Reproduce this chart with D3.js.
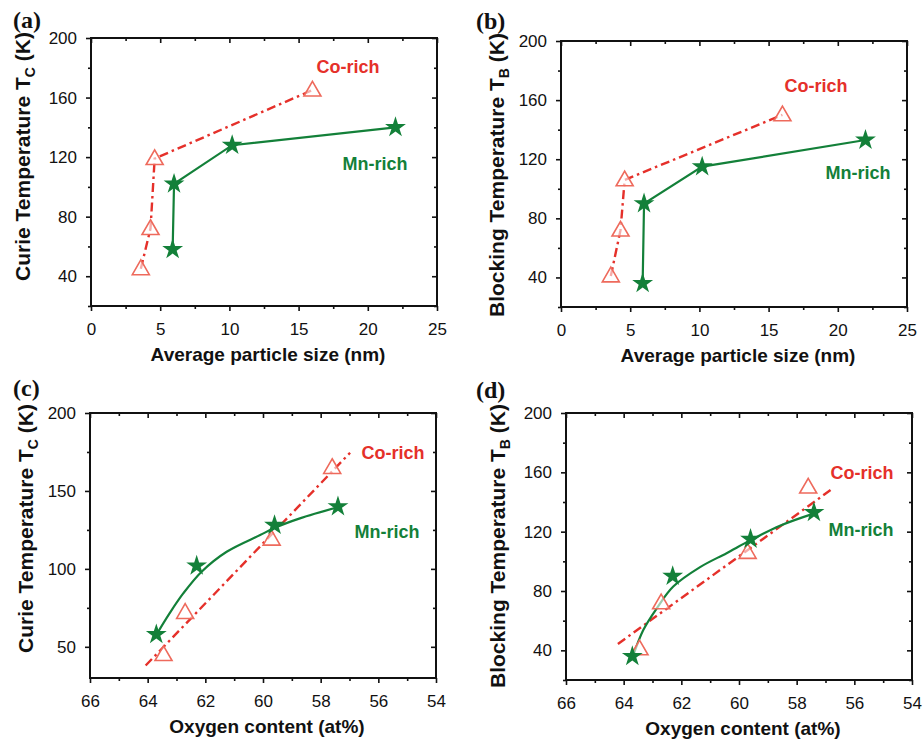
<!DOCTYPE html>
<html>
<head>
<meta charset="utf-8">
<script src="https://cdn.jsdelivr.net/npm/d3@7"></script>
<style>
  body { margin: 0; background: #fff; }
  svg { display: block; }
  .tick text { font-family: "Liberation Sans", Arial, sans-serif; font-size: 17px; fill: #111; }
</style>
</head>
<body>
<div id="chart"></div>
<script>
// particle size (nm) for the two series, panels (a) and (b)
var sizeCo = [3.6, 4.3, 4.6, 16];
var sizeMn = [5.9, 6.0, 10.2, 22];
// oxygen content (at%), panels (c) and (d)
var oxyCo = [63.45, 62.7, 59.7, 57.6];
var oxyMn = [63.7, 62.3, 59.6, 57.4];
// Curie temperature Tc (K)
var tcCo = [45, 72, 119, 165];
var tcMn = [58, 102, 128, 140];
// Blocking temperature Tb (K)
var tbCo = [41, 72, 106, 150];
var tbMn = [36, 90, 115, 133];

// linear fit of Co-rich (end points)
var fitCoTcX = [64.07, 56.98], fitCoTcY = [38, 174.5];
var fitCoTbX = [64.2, 56.75], fitCoTbY = [44.3, 149.1];
// smooth guide curve for Mn-rich
var curveMnTcX = [63.7, 63.23, 62.76, 62.13, 61.26, 60.1, 59.57, 58.72, 57.44];
var curveMnTcY = [57.7, 71.8, 84.4, 98.2, 111, 121.7, 126.5, 132.4, 139.4];
var curveMnTbX = [63.69, 63.32, 62.85, 62.28, 61.35, 60.43, 59.62, 58.58, 57.36];
var curveMnTbY = [35.3, 53.7, 68.4, 83, 96.1, 105.5, 114, 124, 132.5];

var sizeTicks = [0, 5, 10, 15, 20, 25];
var sizeMinor = [2.5, 7.5, 12.5, 17.5, 22.5];
var oxyTicks = [66, 64, 62, 60, 58, 56, 54];
var oxyMinor = [65, 63, 61, 59, 57, 55];
var t40Ticks = [40, 80, 120, 160, 200];
var t40Minor = [20, 60, 100, 140, 180];
var t50Ticks = [50, 100, 150, 200];
var t50Minor = [75, 125, 175];

var RED = "#e5302a", SALMON = "#ee6a5c", GREEN = "#138039";

var W = 923, H = 739;
var svg = d3.select("#chart").append("svg").attr("width", W).attr("height", H);

function zip(xs, ys) { return xs.map(function(x, i) { return [x, ys[i]]; }); }

var panels = [
  { tag: "(a)", tagX: 13, tagY: 28, x0: 91, x1: 437, y0: 38, y1: 306,
    xDom: [0, 25], yDom: [20, 200], xt: sizeTicks, xm: sizeMinor, yt: t40Ticks, ym: t40Minor,
    xTitle: "Average particle size (nm)", yMain: "Curie Temperature T", ySub: "C", yTitleX: 30, yTitleTop: 32,
    co: zip(sizeCo, tcCo), mn: zip(sizeMn, tcMn), coLine: zip(sizeCo, tcCo), mnLine: zip(sizeMn, tcMn), smooth: false,
    coLab: [18.57, 176.5], mnLab: [20.52, 111.3] },
  { tag: "(b)", tagX: 476, tagY: 29, x0: 561, x1: 907, y0: 41, y1: 307,
    xDom: [0, 25], yDom: [20, 200], xt: sizeTicks, xm: sizeMinor, yt: t40Ticks, ym: t40Minor,
    xTitle: "Average particle size (nm)", yMain: "Blocking Temperature T", ySub: "B", yTitleX: 504, yTitleTop: 33,
    co: zip(sizeCo, tbCo), mn: zip(sizeMn, tbMn), coLine: zip(sizeCo, tbCo), mnLine: zip(sizeMn, tbMn), smooth: false,
    coLab: [18.42, 165.5], mnLab: [21.46, 106.6] },
  { tag: "(c)", tagX: 13, tagY: 396, x0: 90, x1: 436, y0: 413, y1: 678,
    xDom: [66, 54], yDom: [30, 200], xt: oxyTicks, xm: oxyMinor, yt: t50Ticks, ym: t50Minor,
    xTitle: "Oxygen content (at%)", yMain: "Curie Temperature T", ySub: "C", yTitleX: 33, yTitleTop: 404,
    co: zip(oxyCo, tcCo), mn: zip(oxyMn, tcMn), coLine: zip(fitCoTcX, fitCoTcY), mnLine: zip(curveMnTcX, curveMnTcY), smooth: true,
    coLab: [55.49, 170.4], mnLab: [55.7, 119.8] },
  { tag: "(d)", tagX: 476, tagY: 398, x0: 566, x1: 912, y0: 413, y1: 680,
    xDom: [66, 54], yDom: [20, 200], xt: oxyTicks, xm: oxyMinor, yt: t40Ticks, ym: t40Minor,
    xTitle: "Oxygen content (at%)", yMain: "Blocking Temperature T", ySub: "B", yTitleX: 505, yTitleTop: 404,
    co: zip(oxyCo, tbCo), mn: zip(oxyMn, tbMn), coLine: zip(fitCoTbX, fitCoTbY), mnLine: zip(curveMnTbX, curveMnTbY), smooth: true,
    coLab: [55.73, 155.7], mnLab: [55.77, 117.2] }
];

panels.forEach(drawPanel);

function drawPanel(p) {
  var x = d3.scaleLinear().domain(p.xDom).range([p.x0, p.x1]);
  var y = d3.scaleLinear().domain(p.yDom).range([p.y1, p.y0]);
  var g = svg.append("g");

  // axes: labelled bottom/left with outward ticks, bare top/right with inward ticks
  function addAxis(axis, tx, ty, labels) {
    var a = g.append("g").attr("transform", "translate(" + tx + "," + ty + ")").call(axis);
    a.select(".domain").remove();
    a.selectAll("line").attr("stroke", "#111").attr("stroke-width", 1.6);
    if (!labels) a.selectAll("text").remove();
    return a;
  }
  addAxis(d3.axisBottom(x).tickValues(p.xt).tickSize(5).tickPadding(12).tickFormat(d3.format("d")), 0, p.y1, true);
  addAxis(d3.axisBottom(x).tickValues(p.xm).tickSize(3), 0, p.y1, false);
  addAxis(d3.axisTop(x).tickValues(p.xt).tickSize(-5), 0, p.y0, false);
  addAxis(d3.axisTop(x).tickValues(p.xm).tickSize(-3), 0, p.y0, false);
  addAxis(d3.axisLeft(y).tickValues(p.yt).tickSize(5).tickPadding(9).tickFormat(d3.format("d")), p.x0, 0, true);
  addAxis(d3.axisLeft(y).tickValues(p.ym).tickSize(3), p.x0, 0, false);
  addAxis(d3.axisRight(y).tickValues(p.yt).tickSize(-5), p.x1, 0, false);
  addAxis(d3.axisRight(y).tickValues(p.ym).tickSize(-3), p.x1, 0, false);

  g.append("rect")
    .attr("x", p.x0).attr("y", p.y0)
    .attr("width", p.x1 - p.x0).attr("height", p.y1 - p.y0)
    .attr("fill", "none").attr("stroke", "#111").attr("stroke-width", 2);

  // lines
  var line = d3.line().x(function(d) { return x(d[0]); }).y(function(d) { return y(d[1]); });
  g.append("path").datum(p.coLine)
    .attr("d", line.curve(d3.curveLinear))
    .attr("fill", "none").attr("stroke", RED).attr("stroke-width", 2.4)
    .attr("stroke-dasharray", "9,4,2.5,4");
  g.append("path").datum(p.mnLine)
    .attr("d", line.curve(p.smooth ? d3.curveCatmullRom.alpha(0.5) : d3.curveLinear))
    .attr("fill", "none").attr("stroke", GREEN).attr("stroke-width", 2.2);

  // markers
  g.selectAll(".tri").data(p.co).join("path")
    .attr("transform", function(d) { return "translate(" + x(d[0]) + "," + (y(d[1]) + 1) + ")"; })
    .attr("d", d3.symbol().type(d3.symbolTriangle).size(125))
    .attr("fill", "#fff").attr("fill-opacity", 0.6).attr("stroke", SALMON).attr("stroke-width", 1.6);
  g.selectAll(".star").data(p.mn).join("path")
    .attr("transform", function(d) { return "translate(" + x(d[0]) + "," + y(d[1]) + ")"; })
    .attr("d", d3.symbol().type(d3.symbolStar).size(135))
    .attr("fill", GREEN);

  // series labels
  g.append("text").attr("x", x(p.coLab[0])).attr("y", y(p.coLab[1]))
    .attr("text-anchor", "middle").attr("fill", RED)
    .style("font", "bold 18px 'Liberation Sans', Arial, sans-serif").text("Co-rich");
  g.append("text").attr("x", x(p.mnLab[0])).attr("y", y(p.mnLab[1]))
    .attr("text-anchor", "middle").attr("fill", GREEN)
    .style("font", "bold 18px 'Liberation Sans', Arial, sans-serif").text("Mn-rich");

  // axis titles
  g.append("text").attr("x", (p.x0 + p.x1) / 2 + 4).attr("y", p.y1 + 55)
    .attr("text-anchor", "middle").attr("fill", "#111")
    .style("font", "bold 19px 'Liberation Sans', Arial, sans-serif").text(p.xTitle);
  var yt = g.append("text")
    .attr("transform", "translate(" + p.yTitleX + "," + p.yTitleTop + ") rotate(-90)")
    .attr("text-anchor", "end").attr("fill", "#111")
    .style("font", "bold 21px 'Liberation Sans', Arial, sans-serif");
  yt.append("tspan").text(p.yMain);
  yt.append("tspan").attr("dy", 5).style("font-size", "14px").text(p.ySub);
  yt.append("tspan").attr("dy", -5).text(" (K)");

  // panel tag
  g.append("text").attr("x", p.tagX).attr("y", p.tagY).attr("fill", "#111")
    .style("font", "bold 24px 'Liberation Serif', 'Times New Roman', serif").text(p.tag);
}
</script>
</body>
</html>
